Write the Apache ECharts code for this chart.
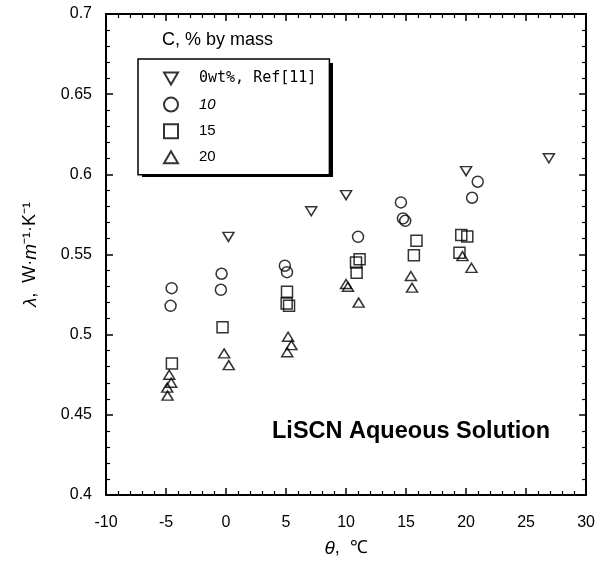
<!DOCTYPE html>
<html>
<head>
<meta charset="utf-8">
<script src="https://cdn.jsdelivr.net/npm/echarts@6/dist/echarts.min.js"></script>
<style>html,body{margin:0;padding:0;background:#fff}#c{width:598px;height:573px}</style>
</head>
<body>
<div id="c"></div>
<script>
// Data (theta in °C, lambda in W·m^-1·K^-1)
var seriesNames = ['0wt%, Ref[11]', '10', '15', '20'];
var s0 = [[0.2, 0.561], [7.1, 0.577], [10.0, 0.587], [20.0, 0.602], [26.9, 0.610]];
var s10 = [[-4.53, 0.529], [-4.62, 0.518], [-0.37, 0.538], [-0.43, 0.528], [4.9, 0.543], [5.08, 0.539],
           [11.0, 0.561], [14.57, 0.5825], [14.74, 0.5725], [14.93, 0.571], [20.5, 0.5854], [20.97, 0.5954]];
var s15 = [[-4.51, 0.482], [-0.29, 0.5046], [5.08, 0.5268], [5.05, 0.5195], [5.25, 0.518],
           [10.83, 0.545], [11.13, 0.547], [10.88, 0.5386], [15.87, 0.5586], [15.65, 0.5495],
           [19.6, 0.5621], [20.1, 0.5613], [19.45, 0.5511]];
var s20 = [[-4.73, 0.475], [-4.57, 0.470], [-4.9, 0.467], [-4.87, 0.462], [-0.16, 0.4883], [0.23, 0.481],
           [5.17, 0.4987], [5.45, 0.4935], [5.1, 0.489], [10.0, 0.5316], [10.16, 0.5299], [11.05, 0.520],
           [15.4, 0.5366], [15.5, 0.5293], [19.7, 0.549], [20.45, 0.5417]];
var xMin = -10, xMax = 30, xStep = 5;
var yMin = 0.4, yMax = 0.7, yStep = 0.05;

var chart = echarts.init(document.getElementById('c'), null, {renderer: 'canvas'});
var font = '"Liberation Sans", Arial, sans-serif';
var downTri = 'path://M0,0 L10,0 L5,8.66 Z';
var upTri = 'path://M5,0 L10,8.66 L0,8.66 Z';
function mk(name, data, symbol, size) {
  return {
    name: name, type: 'scatter', data: data, symbol: symbol, symbolSize: size,
    itemStyle: {color: 'rgba(255,255,255,0)', borderColor: '#000', borderWidth: 1.5},
    emphasis: {disabled: true}
  };
}
function axisCommon(show) {
  return {
    axisLine: {show: true, onZero: false, lineStyle: {color: '#000', width: 2}},
    axisTick: {show: true, inside: true, length: 7, lineStyle: {color: '#000', width: 1.5}},
    minorTick: {show: true, splitNumber: 5, length: 4, lineStyle: {color: '#000', width: 1.2}},
    splitLine: {show: false},
    axisLabel: {show: show, color: '#000', fontFamily: font, fontSize: 16}
  };
}
var xb = Object.assign({type: 'value', min: xMin, max: xMax, interval: xStep, position: 'bottom',
  name: '{i|θ}{n|,  ℃}', nameLocation: 'middle', nameGap: 44,
  nameTextStyle: {rich: {i: {fontFamily: font, fontStyle: 'italic', fontSize: 19, color: '#000'},
                         n: {fontFamily: font, fontSize: 18, color: '#000'}}}}, axisCommon(true));
xb.axisLabel.margin = 20;
var xt = Object.assign({type: 'value', min: xMin, max: xMax, interval: xStep, position: 'top'}, axisCommon(false));
var yl = Object.assign({type: 'value', min: yMin, max: yMax, interval: yStep, position: 'left',
  name: '{i|λ}{n|,  W·}{i|m}{n|⁻¹·K⁻¹}', nameLocation: 'middle', nameGap: 66, nameRotate: 90,
  nameTextStyle: {rich: {i: {fontFamily: font, fontStyle: 'italic', fontSize: 19, color: '#000'},
                         n: {fontFamily: font, fontSize: 18, color: '#000'}}}}, axisCommon(true));
yl.axisLabel.margin = 14;
var yr = Object.assign({type: 'value', min: yMin, max: yMax, interval: yStep, position: 'right'}, axisCommon(false));

chart.setOption({
  animation: false,
  grid: {left: 106, right: 11, top: 14, bottom: 78},
  xAxis: [xb, xt],
  yAxis: [yl, yr],
  legend: {
    orient: 'vertical', left: 138, top: 59, z: 10,
    padding: [12, 13, 10, 25], itemGap: 10.6, itemWidth: 14, itemHeight: 14,
    backgroundColor: '#fff', borderColor: '#000', borderWidth: 1.5,
    selectedMode: false,
    textStyle: {color: '#000', fontFamily: font, fontSize: 15, padding: [0, 0, 0, 16]},
    data: [
      {name: seriesNames[0], textStyle: {fontFamily: '"DejaVu Sans Mono", monospace', fontSize: 15}},
      {name: seriesNames[1], textStyle: {fontStyle: 'italic'}},
      {name: seriesNames[2]},
      {name: seriesNames[3]}
    ]
  },
  graphic: [
    {type: 'rect', left: 142, top: 63, z: 1, shape: {width: 191, height: 114}, style: {fill: '#000'}},
    {type: 'text', left: 162, top: 31, style: {text: 'C, % by mass', fill: '#000', font: '18px ' + font}},
    {type: 'text', left: 272, top: 420, style: {text: 'LiSCN Aqueous Solution', fill: '#000', font: 'bold 23.5px ' + font}}
  ],
  series: [
    mk(seriesNames[0], s0, downTri, [11, 9]),
    mk(seriesNames[1], s10, 'circle', 11),
    mk(seriesNames[2], s15, 'rect', 11),
    mk(seriesNames[3], s20, upTri, [11, 9])
  ]
});
</script>
</body>
</html>
